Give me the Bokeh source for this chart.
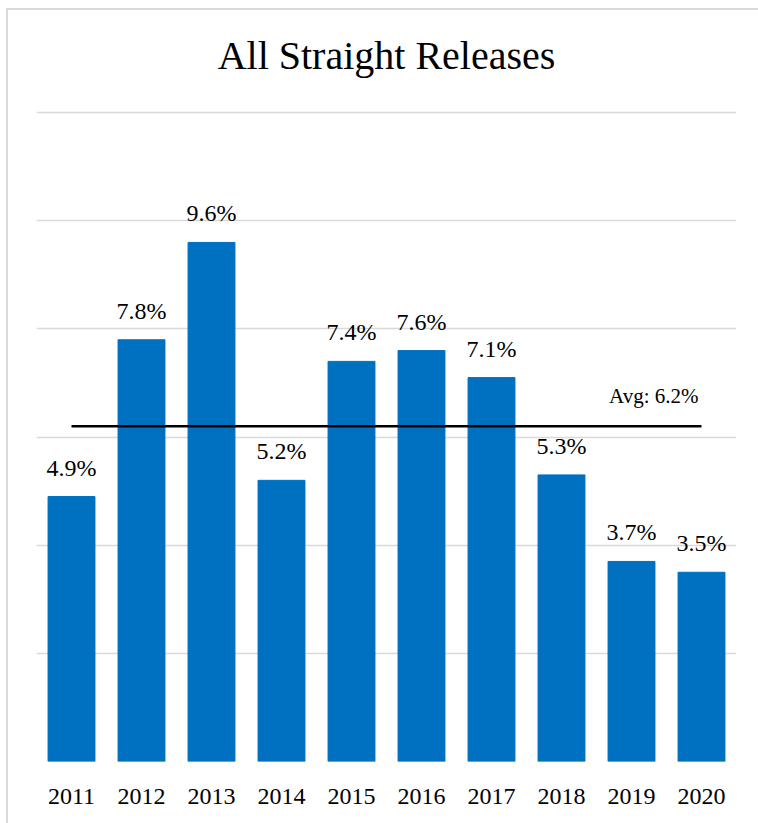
from bokeh.plotting import figure
from bokeh.models import ColumnDataSource, FixedTicker, Range1d
from bokeh.core.properties import value
from bokeh.embed import file_html
from bokeh.resources import INLINE

years = ["2011", "2012", "2013", "2014", "2015", "2016", "2017", "2018", "2019", "2020"]
rates = [4.9, 7.8, 9.6, 5.2, 7.4, 7.6, 7.1, 5.3, 3.7, 3.5]
avg_rate = 6.2
grid_ticks = [0, 2, 4, 6, 8, 10, 12]
title_text = "All Straight Releases"

FONT = "Liberation Serif"

src = ColumnDataSource(dict(
    x=years,
    top=rates,
    label=[f"{v:.1f}%" for v in rates],
))

p = figure(
    x_range=years,
    y_range=Range1d(0, 12.04),
    frame_width=700,
    frame_height=651,
    min_border_left=30,
    min_border_right=22,
    min_border_top=115,
    min_border_bottom=62,
    output_backend="svg",
    toolbar_location=None,
    title=title_text,
)
p.margin = (-5, 0, 0, 6)
p.border_fill_color = None
p.background_fill_color = "white"
p.styles = {
    "background": (
        "linear-gradient(#d9d9d9, #d9d9d9) 0px 13px / 100% 2px no-repeat, "
        "linear-gradient(#d9d9d9, #d9d9d9) 0px 13px / 2px 100% no-repeat, white"
    ),
}

p.title.align = "center"
p.title.text_font = FONT
p.title.text_font_size = "40px"
p.title.text_font_style = "normal"
p.title.text_color = "#000000"
p.title.standoff = 66

p.vbar(x="x", top="top", width=0.67, source=src, color="#0070C0", line_color="#0070C0")

p.text(x="x", y="top", text="label", source=src, text_align="center",
       text_baseline="bottom", y_offset=-16, text_font=value(FONT),
       text_font_size="24px", text_color="#000000")

p.segment(x0=[years[0]], x1=[years[-1]], y0=[avg_rate], y1=[avg_rate],
          line_color="#000000", line_width=2.5)
p.text(x=[years[-1]], y=[avg_rate], text=[f"Avg: {avg_rate:.1f}%"], text_align="right",
       text_baseline="bottom", x_offset=-3, y_offset=-18, text_font=value(FONT),
       text_font_size="21px", text_color="#000000")

p.yaxis.visible = False
p.ygrid.ticker = FixedTicker(ticks=grid_ticks)
p.ygrid.grid_line_color = "#d9d9d9"
p.ygrid.grid_line_width = 1.5
p.xgrid.grid_line_color = None

p.xaxis.axis_line_color = None
p.xaxis.major_tick_line_color = None
p.xaxis.minor_tick_line_color = None
p.xaxis.major_label_standoff = 21
p.xaxis.major_label_text_font = FONT
p.xaxis.major_label_text_font_size = "24px"
p.xaxis.major_label_text_color = "#000000"

p.outline_line_color = None
p.x_range.range_padding = 0

open("out.html", "w").write(file_html(p, INLINE))
